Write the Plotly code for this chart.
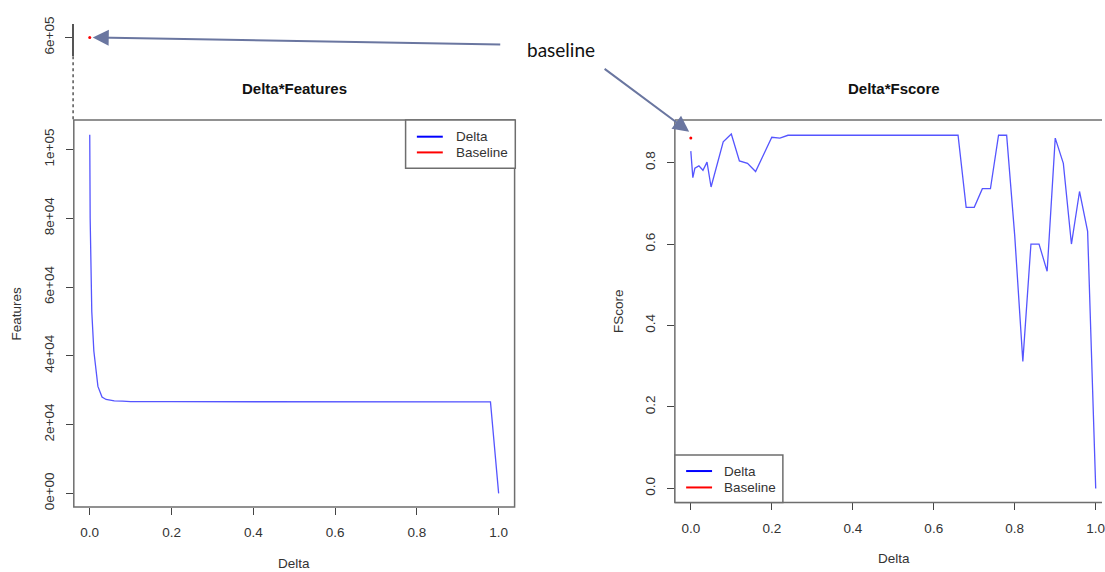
import plotly.graph_objects as go

W, H = 1105, 572

# ---- data ----
feat_delta = [0, 0.001, 0.005, 0.01, 0.02, 0.03, 0.04, 0.05, 0.06, 0.08, 0.10,
              0.20, 0.40, 0.60, 0.80, 0.98, 1.00]
features = [104300, 80000, 52800, 41400, 31100, 28000, 27300, 27000, 26900, 26800, 26700,
            26650, 26620, 26600, 26600, 26580, 0]

fs_delta = [0, 0.001, 0.005, 0.01, 0.02, 0.03, 0.04, 0.05, 0.06, 0.08, 0.10, 0.12, 0.14,
            0.16, 0.20, 0.22, 0.24, 0.66, 0.68, 0.70, 0.72, 0.74, 0.76, 0.78, 0.80, 0.82,
            0.84, 0.86, 0.88, 0.90, 0.92, 0.94, 0.96, 0.98, 1.00]
fscore = [0.828, 0.814, 0.763, 0.786, 0.792, 0.781, 0.801, 0.740, 0.777, 0.851, 0.870,
          0.804, 0.798, 0.778, 0.862, 0.860, 0.867, 0.867, 0.690, 0.690, 0.736, 0.736,
          0.867, 0.867, 0.620, 0.312, 0.600, 0.600, 0.533, 0.860, 0.798, 0.600, 0.729,
          0.631, 0.0]

baseline_features = 600000
baseline_fscore = 0.860

x_ticks = [0, 0.2, 0.4, 0.6, 0.8, 1.0]
x_ticktext = ["0.0", "0.2", "0.4", "0.6", "0.8", "1.0"]
feat_ticks = [0, 20000, 40000, 60000, 80000, 100000]
feat_ticktext = ["0e+00", "2e+04", "4e+04", "6e+04", "8e+04", "1e+05"]
fs_ticks = [0, 0.2, 0.4, 0.6, 0.8]
fs_ticktext = ["0.0", "0.2", "0.4", "0.6", "0.8"]

legend_labels = ["Delta", "Baseline"]
legend_colors = ["#0000ff", "#ff0000"]


def px(x):
    return x / W


def py(y):
    return 1 - y / H


FONT = "Liberation Sans, Arial, sans-serif"
TXT = "#333333"
LINE_BLUE = "rgb(85,85,255)"
FRAME = "#6e6e6e"

fig = go.Figure()

fig.add_trace(go.Scatter(x=feat_delta, y=features, mode="lines",
                         line=dict(color=LINE_BLUE, width=1.3),
                         xaxis="x", yaxis="y", showlegend=False))
fig.add_trace(go.Scatter(x=[0], y=[baseline_features], mode="markers",
                         marker=dict(color="red", size=3),
                         xaxis="x3", yaxis="y3", showlegend=False))
fig.add_trace(go.Scatter(x=fs_delta, y=fscore, mode="lines",
                         line=dict(color=LINE_BLUE, width=1.3),
                         xaxis="x2", yaxis="y2", showlegend=False))
fig.add_trace(go.Scatter(x=[0], y=[baseline_fscore], mode="markers",
                         marker=dict(color="red", size=3),
                         xaxis="x2", yaxis="y2", showlegend=False))

tickfont = dict(family=FONT, size=13.5, color=TXT)
common = dict(showgrid=False, zeroline=False, showline=False, ticks="outside",
              ticklen=7, tickcolor="#444", tickwidth=1, tickfont=tickfont,
              ticklabeloverflow="allow", fixedrange=True)

L_X0, L_X1, L_Y0, L_Y1 = 74, 516, 115, 509
R_X0, R_Y0, R_Y1 = 676.7, 115, 504.3

fig.update_layout(
    width=W, height=H, margin=dict(l=0, r=0, t=0, b=0), autosize=False,
    paper_bgcolor="white", plot_bgcolor="white", showlegend=False,
    xaxis=dict(domain=[px(L_X0), px(L_X1)], range=[-0.039, 1.039], anchor="y",
               tickvals=x_ticks, ticktext=x_ticktext, ticklabelstandoff=6, **common),
    yaxis=dict(domain=[py(L_Y1), py(L_Y0)], range=[-4000, 108571], anchor="x",
               tickvals=feat_ticks, ticktext=feat_ticktext, tickangle=-90,
               ticklabelstandoff=6, **common),
    xaxis2=dict(domain=[px(R_X0), 1.0], range=[-0.0394, 1.0155], anchor="y2",
                tickvals=x_ticks, ticktext=x_ticktext, ticklabelstandoff=6, **common),
    yaxis2=dict(domain=[py(R_Y1), py(R_Y0)], range=[-0.0345, 0.9045], anchor="x2",
                tickvals=fs_ticks, ticktext=fs_ticktext, tickangle=-90,
                ticklabelstandoff=6, **common),
    xaxis3=dict(domain=[px(L_X0), px(L_X1)], range=[-0.039, 1.039], anchor="y3",
                visible=False, fixedrange=True),
    yaxis3=dict(domain=[py(50), py(17)], range=[581000, 614000], anchor="x3",
                tickvals=[600000], ticktext=["6e+05"], tickangle=-90,
                ticklabelstandoff=6, **{k: v for k, v in common.items() if k != "showline"},
                showline=True, linecolor="#555", linewidth=1.5),
)

shapes = []
# left frame box
shapes.append(dict(type="rect", xref="paper", yref="paper",
                   x0=px(L_X0), x1=px(L_X1), y0=py(L_Y1), y1=py(L_Y0),
                   line=dict(color=FRAME, width=1.5)))
# right frame (top, left, bottom)
for (x0, y0, x1, y1) in [(R_X0, R_Y0, W, R_Y0), (R_X0, R_Y0, R_X0, R_Y1), (R_X0, R_Y1, W, R_Y1)]:
    shapes.append(dict(type="line", xref="paper", yref="paper",
                       x0=px(x0), x1=px(x1), y0=py(y0), y1=py(y1),
                       line=dict(color=FRAME, width=1.5)))
# dotted break line
shapes.append(dict(type="line", xref="paper", yref="paper",
                   x0=px(73.3), x1=px(73.3), y0=py(50), y1=py(115),
                   line=dict(color="#555", width=1.5, dash="dot")))

annotations = []


def legend(x0, y0, x1, y1, rows_y, line_x0, line_x1, text_x):
    shapes.append(dict(type="rect", xref="paper", yref="paper",
                       x0=px(x0), x1=px(x1), y0=py(y1), y1=py(y0),
                       fillcolor="white", line=dict(color=FRAME, width=1.5)))
    for lab, col, yy in zip(legend_labels, legend_colors, rows_y):
        shapes.append(dict(type="line", xref="paper", yref="paper",
                           x0=px(line_x0), x1=px(line_x1), y0=py(yy), y1=py(yy),
                           line=dict(color=col, width=2)))
        annotations.append(dict(text=lab, xref="paper", yref="paper", x=px(text_x), y=py(yy),
                                xanchor="left", yanchor="middle", showarrow=False,
                                font=dict(family=FONT, size=13.5, color=TXT)))


legend(406.7, 115, 516.7, 164, [132, 148], 418, 444, 455)
legend(676.7, 456, 785, 504.3, [472.3, 489], 688, 714, 724)

# titles
for t, x in [("Delta*Features", 295), ("Delta*Fscore", 896)]:
    annotations.append(dict(text="<b>%s</b>" % t, xref="paper", yref="paper", x=px(x), y=py(83),
                            xanchor="center", yanchor="middle", showarrow=False,
                            font=dict(family=FONT, size=15, color="#111")))
# axis titles
annotations.append(dict(text="Delta", xref="paper", yref="paper", x=px(295), y=py(566),
                        xanchor="center", yanchor="middle", showarrow=False,
                        font=dict(family=FONT, size=13.5, color=TXT)))
annotations.append(dict(text="Delta", xref="paper", yref="paper", x=px(896), y=py(561),
                        xanchor="center", yanchor="middle", showarrow=False,
                        font=dict(family=FONT, size=13.5, color=TXT)))
annotations.append(dict(text="Features", xref="paper", yref="paper", x=px(17), y=py(312),
                        xanchor="center", yanchor="middle", showarrow=False, textangle=-90,
                        font=dict(family=FONT, size=13.5, color=TXT)))
annotations.append(dict(text="FScore", xref="paper", yref="paper", x=px(620), y=py(309),
                        xanchor="center", yanchor="middle", showarrow=False, textangle=-90,
                        font=dict(family=FONT, size=13.5, color=TXT)))

# "baseline" callout
annotations.append(dict(text="baseline", xref="paper", yref="paper", x=px(563), y=py(43),
                        xanchor="center", yanchor="middle", showarrow=False,
                        font=dict(family="Lato, Open Sans, sans-serif", size=19, color="#111")))
ARROW = "#6a76a0"
annotations.append(dict(text="", xref="paper", yref="paper", x=px(93), y=py(31),
                        ax=409, ay=7, axref="pixel", ayref="pixel", showarrow=True,
                        arrowhead=2, arrowsize=1.6, arrowwidth=2, arrowcolor=ARROW, standoff=0))
annotations.append(dict(text="", xref="paper", yref="paper", x=px(691), y=py(127),
                        ax=-86, ay=-64, axref="pixel", ayref="pixel", showarrow=True,
                        arrowhead=2, arrowsize=1.6, arrowwidth=2, arrowcolor=ARROW, standoff=0))

fig.update_layout(shapes=shapes, annotations=annotations)

fig.write_html("out.html", config={"displayModeBar": False, "staticPlot": True},
               post_script="document.body.style.margin='0';document.body.style.overflow='hidden';")
